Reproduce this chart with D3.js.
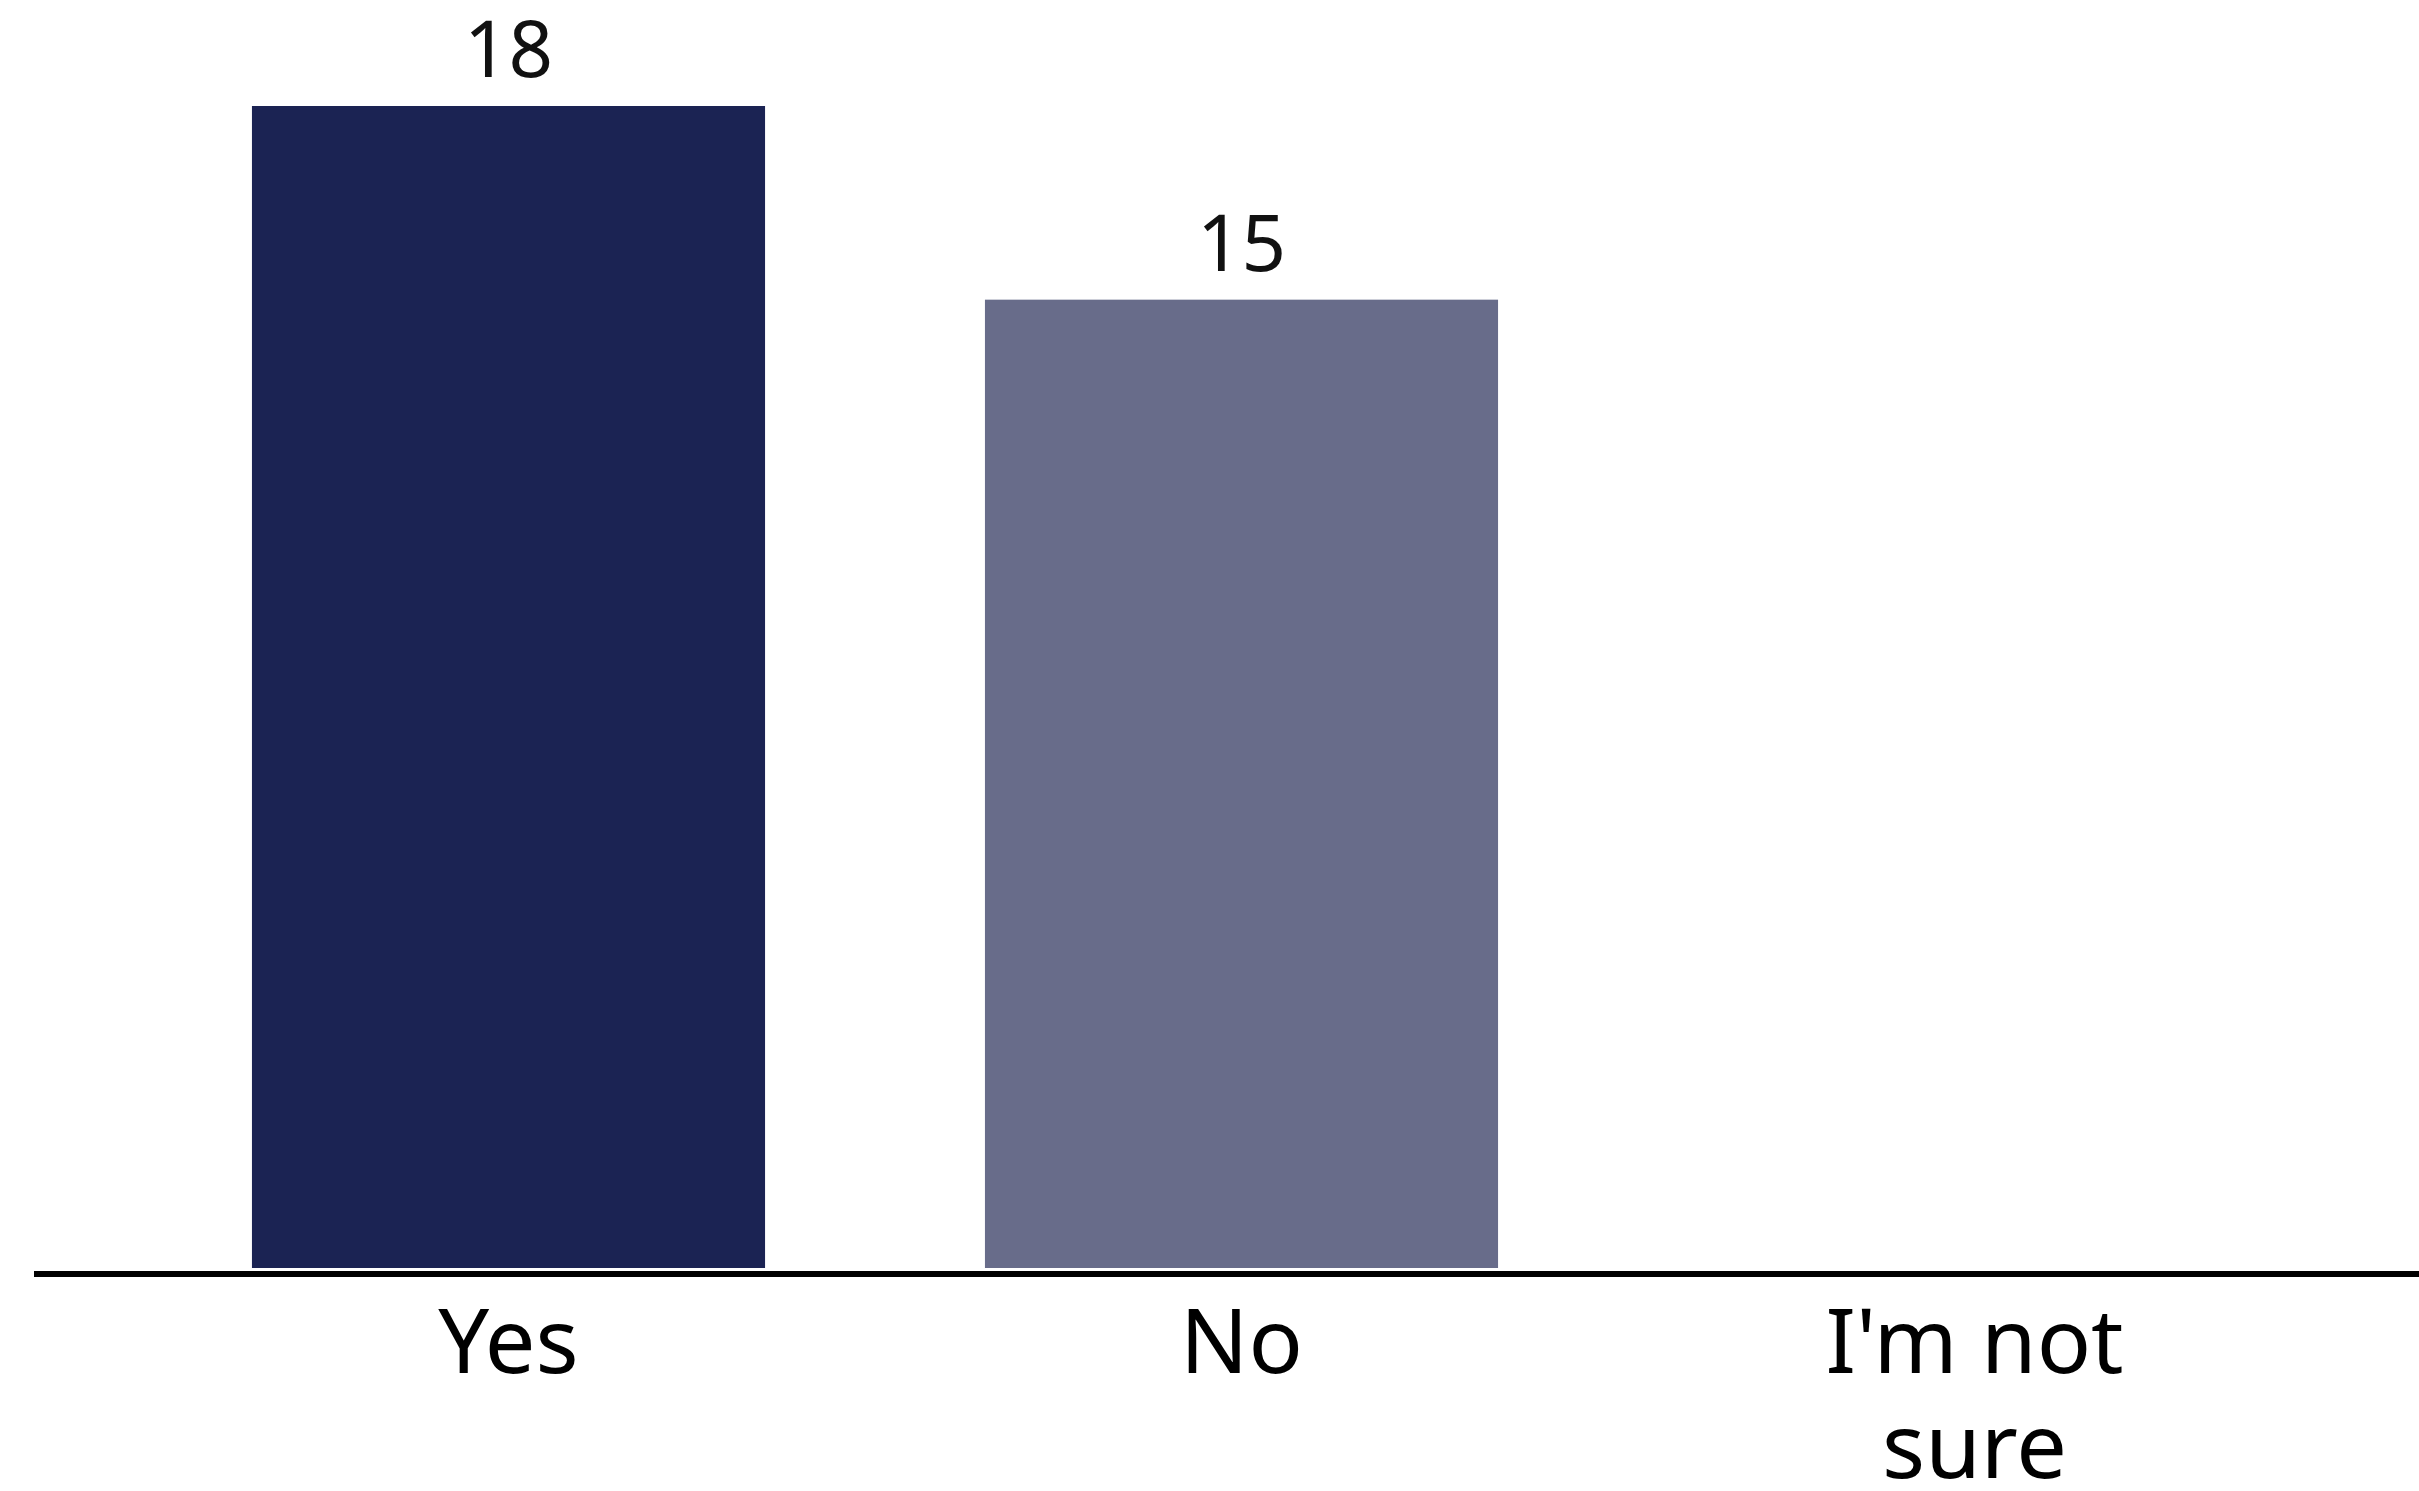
<!DOCTYPE html>
<html>
<head>
<meta charset="utf-8">
<script src="https://cdn.jsdelivr.net/npm/d3@7"></script>
<style>
  html, body { margin: 0; padding: 0; background: #fff; }
  svg { display: block; }
</style>
</head>
<body>
<svg id="chart"></svg>
<script>
const categories = ["Yes", "No", "I'm not sure"];
const values = [18, 15, 0];
const colors = ["#1b2353", "#686c8a", "#9a9db3"];
const labelLines = [["Yes"], ["No"], ["I'm not", "sure"]];

const width = 2419;
const height = 1491;
const baseY = 1268;

const svg = d3.select("#chart")
  .attr("width", width)
  .attr("height", height)
  .style("font-family", "'Noto Sans', sans-serif");

const x = d3.scaleBand()
  .domain(categories)
  .range([142, 2341])
  .paddingInner(0.3)
  .paddingOuter(0.15);

const y = d3.scaleLinear()
  .domain([0, 18])
  .range([baseY, 106]);

// bars
svg.selectAll(".bar")
  .data(categories)
  .join("rect")
  .attr("class", "bar")
  .attr("x", d => x(d))
  .attr("width", x.bandwidth())
  .attr("y", (d, i) => y(values[i]))
  .attr("height", (d, i) => baseY - y(values[i]))
  .attr("fill", (d, i) => colors[i]);

// value labels (only for non-zero)
svg.selectAll(".val")
  .data(categories.filter((d, i) => values[i] > 0))
  .join("text")
  .attr("class", "val")
  .attr("x", d => x(d) + x.bandwidth() / 2)
  .attr("y", d => y(values[categories.indexOf(d)]) - 29)
  .attr("text-anchor", "middle")
  .attr("font-size", 78)
  .attr("fill", "#111")
  .text(d => values[categories.indexOf(d)]);

// axis line
svg.append("line")
  .attr("x1", 34)
  .attr("x2", width)
  .attr("y1", 1274)
  .attr("y2", 1274)
  .attr("stroke", "#000")
  .attr("stroke-width", 6);

// category labels
const lab = svg.selectAll(".cat")
  .data(categories)
  .join("text")
  .attr("class", "cat")
  .attr("text-anchor", "middle")
  .attr("font-size", 90)
  .attr("fill", "#000");

lab.selectAll("tspan")
  .data((d, i) => labelLines[i].map(t => ({t, c: d})))
  .join("tspan")
  .attr("x", d => x(d.c) + x.bandwidth() / 2)
  .attr("y", (d, j) => 1373 + j * 105)
  .text(d => d.t);
</script>
</body>
</html>
